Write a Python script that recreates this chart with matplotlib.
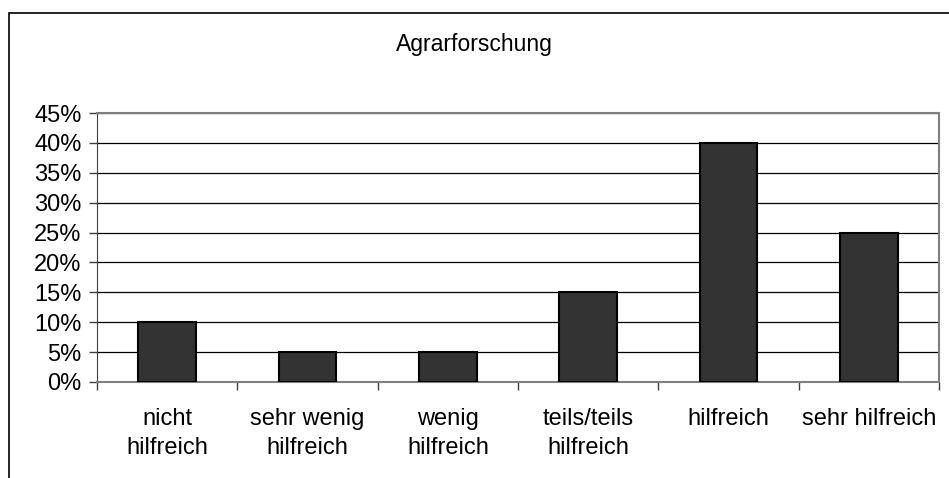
import numpy as np
import matplotlib.pyplot as plt
from matplotlib.patches import Rectangle
from matplotlib.ticker import FuncFormatter

plt.rcParams['font.family'] = ['Liberation Sans', 'DejaVu Sans']

categories = ['nicht\nhilfreich', 'sehr wenig\nhilfreich', 'wenig\nhilfreich',
              'teils/teils\nhilfreich', 'hilfreich', 'sehr hilfreich']
shares = [10, 5, 5, 15, 40, 25]  # percent
y_ticks = [0, 5, 10, 15, 20, 25, 30, 35, 40, 45]

fig = plt.figure(figsize=(9.49, 4.78), dpi=100)

# outer chart frame (bottom edge runs off the page)
fig.patches.append(Rectangle((9 / 949, -0.05), 1.2, 1 - 13 / 478 + 0.05,
                             transform=fig.transFigure, fill=False,
                             edgecolor='black', linewidth=1.2, zorder=0))

ax = fig.add_axes([97 / 949, 1 - 382 / 478, 842 / 949, 269 / 478])

x = np.arange(len(categories))
ax.bar(x, shares, width=0.41, color='#333333', edgecolor='black',
       linewidth=1.5, zorder=3)

ax.set_xlim(-0.5, len(categories) - 0.5)
ax.set_ylim(0, 45)
ax.set_yticks(y_ticks)
ax.yaxis.set_major_formatter(FuncFormatter(lambda v, p: f'{v:.0f}%'))
ax.yaxis.grid(True, color='black', linewidth=0.9, zorder=1)

ax.set_xticks(x)
ax.set_xticklabels(categories, fontsize=17, linespacing=1.4)
ax.set_xticks(np.arange(len(categories) + 1) - 0.5, minor=True)
ax.tick_params(axis='x', which='major', length=0, pad=19)
ax.tick_params(axis='x', which='minor', length=6, color='#404040', width=1)
ax.tick_params(axis='y', length=6, color='#404040', width=1,
               labelsize=17, pad=5)

for side in ['top', 'right']:
    ax.spines[side].set_color('#808080')
    ax.spines[side].set_linewidth(1.5)
ax.spines['left'].set_color('#404040')
ax.spines['bottom'].set_color('#808080')
ax.spines['bottom'].set_linewidth(1.5)

fig.text(0.5, 1 - 45 / 478, 'Agrarforschung', ha='center', va='center',
         fontsize=16.5)

fig.savefig('out.png', dpi=100)
